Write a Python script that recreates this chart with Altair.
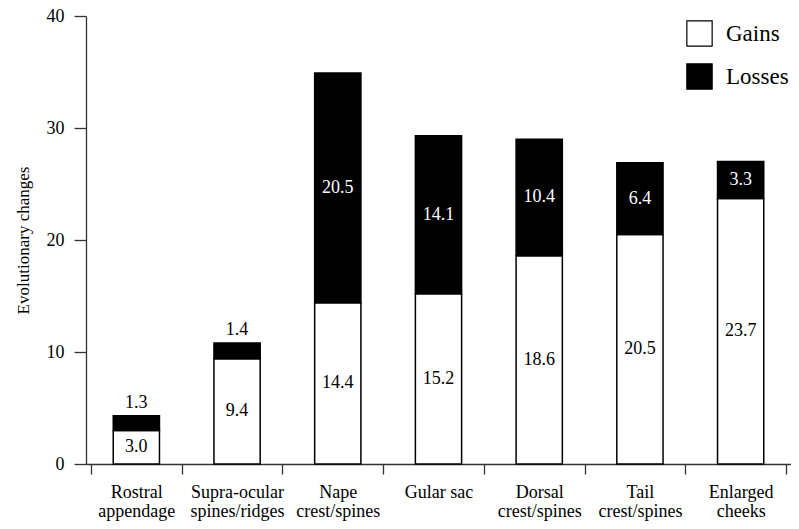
import altair as alt
import pandas as pd

categories = ["Rostral|appendage", "Supra-ocular|spines/ridges", "Nape|crest/spines",
              "Gular sac", "Dorsal|crest/spines", "Tail|crest/spines", "Enlarged|cheeks"]
gains = [3.0, 9.4, 14.4, 15.2, 18.6, 20.5, 23.7]
losses = [1.3, 1.4, 20.5, 14.1, 10.4, 6.4, 3.3]
y_ticks = [0, 10, 20, 30, 40]

rows = []
for c, g, l in zip(categories, gains, losses):
    rows.append(dict(cat=c, type="Gains", y0=0, y1=g, ly=g / 2, txt=f"{g:.1f}", tc="black", above=False))
    above = l < 2
    rows.append(dict(cat=c, type="Losses", y0=g, y1=g + l, ly=(g + l) if above else g + l / 2,
                     txt=f"{l:.1f}", tc="black" if above else "white", above=above))
df = pd.DataFrame(rows)

FONT = "Liberation Serif"
W, H = 705, 448

xenc = alt.X("cat:N", sort=categories, title=None,
             axis=alt.Axis(labelAngle=0, labelFontSize=18, labelFont=FONT, labelColor="black",
                           labelExpr="split(datum.label, '|')", labelLineHeight=19,
                           tickBand="extent", tickSize=10, labelPadding=9,
                           domainColor="#333", tickColor="#333", domainWidth=1.3, tickWidth=1.3))

yscale = alt.Scale(domain=[0, 40], nice=False)

bars = alt.Chart(df).mark_bar(width=alt.RelativeBandSize(0.51), stroke="black", strokeWidth=1.5).encode(
    x=xenc,
    y=alt.Y("y0:Q", scale=yscale, title="Evolutionary changes",
            axis=alt.Axis(values=y_ticks, grid=False, tickSize=12, labelPadding=10,
                          labelFontSize=18, labelFont=FONT, labelColor="black",
                          titleFont=FONT, titleFontSize=17, titleFontWeight="normal", titleColor="black",
                          titleX=-63, titleY=H / 2, titleAngle=270, titleAlign="center",
                          titleBaseline="middle",
                          domainColor="#333", tickColor="#333", domainWidth=1.3, tickWidth=1.3)),
    y2="y1:Q",
    fill=alt.Fill("type:N", scale=alt.Scale(domain=["Gains", "Losses"], range=["white", "black"]),
                  legend=alt.Legend(title=None, orient="none", legendX=600, legendY=4,
                                    symbolType="square", symbolSize=640, symbolStrokeColor="black",
                                    symbolStrokeWidth=1.2, labelFontSize=23, labelFont=FONT,
                                    labelColor="black", labelOffset=13, rowPadding=12, padding=0)),
)

inside = alt.Chart(df).transform_filter("!datum.above").mark_text(
    font=FONT, fontSize=18, baseline="middle").encode(
    x=alt.X("cat:N", sort=categories),
    y=alt.Y("ly:Q", scale=yscale),
    text="txt:N",
    color=alt.Color("tc:N", scale=None),
)

above = alt.Chart(df).transform_filter("datum.above").mark_text(
    font=FONT, fontSize=18, baseline="middle", dy=-13).encode(
    x=alt.X("cat:N", sort=categories),
    y=alt.Y("ly:Q", scale=yscale),
    text="txt:N",
    color=alt.Color("tc:N", scale=None),
)

chart = alt.layer(bars, inside, above).properties(
    width=W, height=H,
    autosize=alt.AutoSizeParams(type="none"),
    padding={"left": 78, "top": 8, "right": 0, "bottom": 57},
).configure_view(stroke=None)

chart.save("out.html", embed_options={"renderer": "svg", "actions": False})
